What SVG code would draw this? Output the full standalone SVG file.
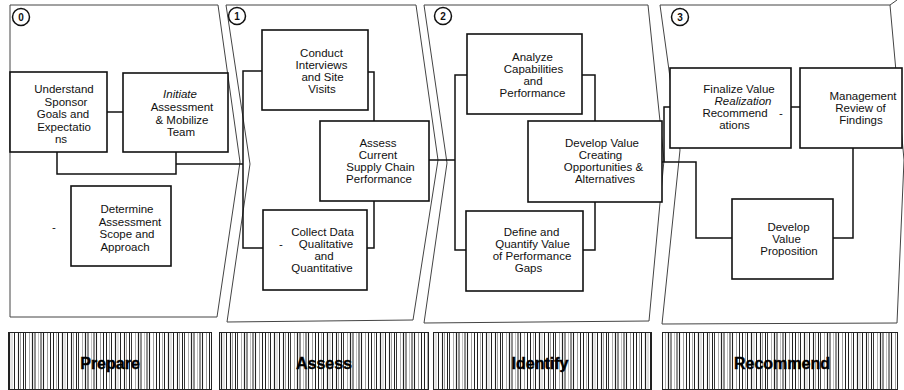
<svg xmlns="http://www.w3.org/2000/svg" width="904" height="390" viewBox="0 0 904 390">
<defs>
<style>
.ph{fill:#fff;stroke:#444;stroke-width:1;stroke-linejoin:miter}
.bx{fill:#fff;stroke:#111;stroke-width:1.6}
.cn{fill:none;stroke:#111;stroke-width:1.5}
.t{font-family:"Liberation Sans",Arial,sans-serif;font-size:11.5px;fill:#111;text-anchor:middle}
.it{font-style:italic}
.num{font-family:"Liberation Sans",Arial,sans-serif;font-size:10px;font-weight:bold;fill:#111;text-anchor:middle}
.circ{fill:#fff;stroke:#111;stroke-width:1.5}
.band{fill:url(#hatch);stroke:#222;stroke-width:1}
.bt{font-family:"Liberation Sans",Arial,sans-serif;font-size:16px;font-weight:bold;fill:#000;stroke:#000;stroke-width:0.4;text-anchor:middle}
</style>
<pattern id="hatch" patternUnits="userSpaceOnUse" width="53" height="10">
<rect width="53" height="10" fill="#fff"/>
<g stroke="#222" stroke-width="1">
<line x1="0.5" y1="0" x2="0.5" y2="10"/>
<line x1="3.5" y1="0" x2="3.5" y2="10" stroke="#888" stroke-width="0.7"/>
<line x1="5.5" y1="0" x2="5.5" y2="10"/>
<line x1="9.5" y1="0" x2="9.5" y2="10" stroke-width="1.2"/>
<line x1="12" y1="0" x2="12" y2="10" stroke="#999" stroke-width="0.6"/>
<line x1="14.5" y1="0" x2="14.5" y2="10"/>
<line x1="18.5" y1="0" x2="18.5" y2="10" stroke-width="1.1"/>
<line x1="20.5" y1="0" x2="20.5" y2="10" stroke="#777" stroke-width="0.7"/>
<line x1="23.5" y1="0" x2="23.5" y2="10"/>
<line x1="25.5" y1="0" x2="25.5" y2="10" stroke-width="0.9"/>
<line x1="29.5" y1="0" x2="29.5" y2="10" stroke="#888" stroke-width="0.7"/>
<line x1="32.5" y1="0" x2="32.5" y2="10" stroke-width="1.2"/>
<line x1="35" y1="0" x2="35" y2="10"/>
<line x1="38.5" y1="0" x2="38.5" y2="10" stroke="#999" stroke-width="0.6"/>
<line x1="41" y1="0" x2="41" y2="10"/>
<line x1="43.5" y1="0" x2="43.5" y2="10" stroke-width="1.1"/>
<line x1="47.5" y1="0" x2="47.5" y2="10" stroke="#777" stroke-width="0.7"/>
<line x1="50.5" y1="0" x2="50.5" y2="10"/>
</g>
</pattern>
</defs>
<rect width="904" height="390" fill="#fff"/>

<g id="phases">
<g id="phase0">
<polygon class="ph" points="10,5 218,5 240,162 217,317 10,317"/>
<circle class="circ" cx="21" cy="17" r="8.5"/><text class="num" x="21" y="21">0</text>
</g>
<g id="phase1">
<polygon class="ph" points="226,5 416,5 438,160 413,320 227,322 250,164"/>
<circle class="circ" cx="237" cy="16" r="8.5"/><text class="num" x="237" y="20">1</text>
</g>
<g id="phase2">
<polygon class="ph" points="424,5 648,5 664,160 649,321 424,323 447,163"/>
<circle class="circ" cx="443" cy="16" r="8.5"/><text class="num" x="443" y="20">2</text>
</g>
<g id="phase3">
<polygon class="ph" points="660,5 890,5 904,160 897,323 662,324 680,150"/>
<line x1="890" y1="5" x2="897" y2="0" stroke="#444" stroke-width="1"/>
<circle class="circ" cx="680" cy="17" r="8.5"/><text class="num" x="680" y="21">3</text>
</g>
</g>

<g id="connectors">
<line class="cn" x1="107" y1="112" x2="123" y2="112"/>
<polyline class="cn" points="57,152 57,174 176,174 176,152"/>
<polyline class="cn" points="176,164 243,164"/>
<polyline class="cn" points="262,71 243,71 243,248 263,248"/>
<polyline class="cn" points="368,72 374,72 374,121"/>
<polyline class="cn" points="374,201 374,248 367,248"/>
<polyline class="cn" points="429,160 455,160"/>
<polyline class="cn" points="467,75 455,75 455,250 466,250"/>
<polyline class="cn" points="582,75 595,75 595,121"/>
<polyline class="cn" points="595,202 595,250 583,250"/>
<polyline class="cn" points="662,162 696,162 696,238 732,238"/>
<polyline class="cn" points="664,162 664,107 670,107"/>
<line class="cn" x1="791" y1="107" x2="800" y2="107"/>
<polyline class="cn" points="853,148 853,238 833,238"/>
</g>

<g id="n-understand">
<rect class="bx" x="10" y="72" width="97" height="80"/>
<text class="t" x="64" y="93">Understand</text>
<text class="t" x="66" y="105.5">Sponsor</text>
<text class="t" x="63" y="118">Goals and</text>
<text class="t" x="64" y="130.5">Expectatio</text>
<text class="t" x="61" y="143">ns</text>
</g>
<g id="n-initiate">
<rect class="bx" x="123" y="73" width="105" height="79"/>
<text class="t it" x="180" y="98" font-size="10.5">Initiate</text>
<text class="t" x="182" y="111">Assessment</text>
<text class="t" x="182" y="123.5">&amp; Mobilize</text>
<text class="t" x="181" y="136">Team</text>
</g>
<g id="n-determine">
<rect class="bx" x="71" y="186" width="100" height="80"/>
<text class="t" x="127" y="213">Determine</text>
<text class="t" x="130" y="225.5">Assessment</text>
<text class="t" x="127" y="238">Scope and</text>
<text class="t" x="125" y="250.5">Approach</text>
</g>
<text class="t" x="54" y="231">-</text>

<g id="n-conduct">
<rect class="bx" x="262" y="30" width="106" height="80"/>
<text class="t" x="321.5" y="56.5">Conduct</text>
<text class="t" x="321.5" y="69">Interviews</text>
<text class="t" x="322.5" y="81">and Site</text>
<text class="t" x="322" y="93">Visits</text>
</g>
<g id="n-assess">
<rect class="bx" x="320" y="121" width="109" height="80"/>
<text class="t" x="378" y="146.5">Assess</text>
<text class="t" x="378" y="158.5">Current</text>
<text class="t" x="380.5" y="171">Supply Chain</text>
<text class="t" x="379" y="183">Performance</text>
</g>
<g id="n-collect">
<rect class="bx" x="263" y="210" width="104" height="80"/>
<text class="t" x="322.5" y="235.5">Collect Data</text>
<text class="t" x="281" y="247.5">-</text>
<text class="t" x="326" y="247.5">Qualitative</text>
<text class="t" x="324" y="260">and</text>
<text class="t" x="322" y="272">Quantitative</text>
</g>

<g id="n-analyze">
<rect class="bx" x="467" y="34" width="115" height="80"/>
<text class="t" x="532.5" y="61">Analyze</text>
<text class="t" x="533.5" y="73">Capabilities</text>
<text class="t" x="533" y="85">and</text>
<text class="t" x="532.5" y="97">Performance</text>
</g>
<g id="n-develop-opps">
<rect class="bx" x="528" y="121" width="134" height="81"/>
<text class="t" x="602" y="147">Develop Value</text>
<text class="t" x="600.5" y="159">Creating</text>
<text class="t" x="603.5" y="171">Opportunities &amp;</text>
<text class="t" x="605" y="183">Alternatives</text>
</g>
<g id="n-define">
<rect class="bx" x="466" y="211" width="117" height="80"/>
<text class="t" x="531.5" y="236">Define and</text>
<text class="t" x="532.5" y="248">Quantify Value</text>
<text class="t" x="532" y="260">of Performance</text>
<text class="t" x="528.5" y="272">Gaps</text>
</g>

<g id="n-finalize">
<rect class="bx" x="670" y="68" width="121" height="80"/>
<text class="t" x="739" y="93">Finalize Value</text>
<text class="t it" x="743" y="105">Realization</text>
<text class="t" x="735" y="117">Recommend</text>
<text class="t" x="781" y="117">-</text>
<text class="t" x="734.5" y="129">ations</text>
</g>
<g id="n-management">
<rect class="bx" x="800" y="68" width="102" height="80"/>
<text class="t" x="863" y="100">Management</text>
<text class="t" x="860.5" y="112">Review of</text>
<text class="t" x="861" y="124">Findings</text>
</g>
<g id="n-proposition">
<rect class="bx" x="732" y="199" width="101" height="80"/>
<text class="t" x="788.5" y="231">Develop</text>
<text class="t" x="786.5" y="243">Value</text>
<text class="t" x="789" y="255">Proposition</text>
</g>

<g id="bands">
<g id="b-prepare"><rect class="band" x="8.5" y="332.5" width="203" height="57"/><text class="bt" x="110" y="369">Prepare</text></g>
<g id="b-assess"><rect class="band" x="219.5" y="332.5" width="209" height="57"/><text class="bt" x="324" y="369">Assess</text></g>
<g id="b-identify"><rect class="band" x="433.5" y="332.5" width="218" height="57"/><text class="bt" x="540" y="369">Identify</text></g>
<g id="b-recommend"><rect class="band" x="662.5" y="332.5" width="235" height="57"/><text class="bt" x="782" y="369">Recommend</text></g>
</g>
</svg>
